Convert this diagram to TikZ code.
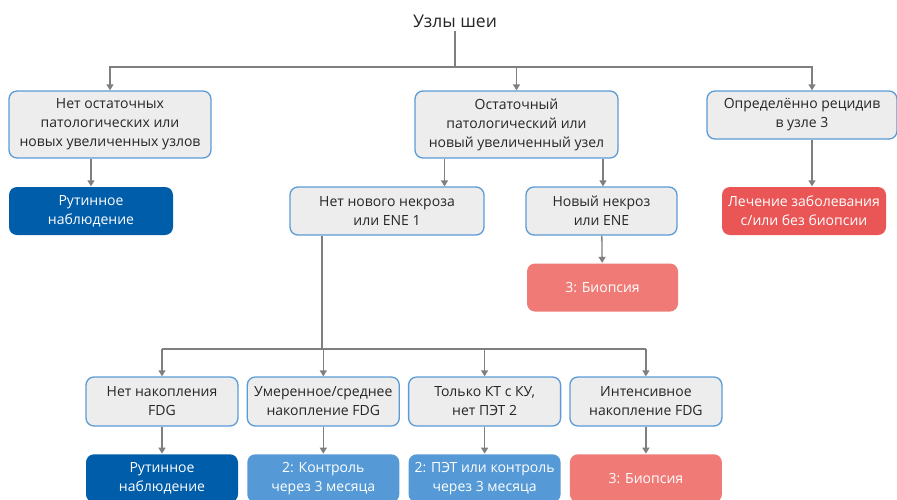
\documentclass[tikz,border=0pt]{standalone}
\usepackage{fontspec}
\setmainfont{Open Sans}
\usetikzlibrary{arrows.meta,chains,positioning}

\definecolor{boxgray}{HTML}{EDEDED}
\definecolor{edgeblue}{HTML}{5B9BD5}
\definecolor{linkgray}{HTML}{7F7F7F}
\definecolor{routblue}{HTML}{005DAA}
\definecolor{ctrlblue}{HTML}{559AD6}
\definecolor{biopred}{HTML}{F07B76}
\definecolor{treatred}{HTML}{EA5556}

\begin{document}
\begin{tikzpicture}[x=1pt,y=-1pt,line width=1.3pt]

\edef\sizerow{152pt}
\tikzstyle{question}=[draw=edgeblue,fill=boxgray,rounded corners=8pt,align=center,
  inner sep=0pt,text=black!85,font=\fontsize{14}{19}\selectfont]
\tikzstyle{result}=[question,draw=none,text=white]
\tikzstyle{link}=[draw=linkgray,-{Triangle[width=7pt,length=6pt]}]

\clip (0,0) rectangle (897,499);

%% Title and first level
\node [font=\fontsize{17.5}{20}\selectfont,text=black!85] (title) at (455,21) {Узлы шеи};
\coordinate (hub) at (455,67);

\node [question,minimum width=202pt,minimum height=67pt] (none) at (110,124.5)
  {Нет остаточных\\патологических или\\новых увеличенных узлов};
\node [question,minimum width=203pt,minimum height=67pt] (resid) at (516.5,124.5)
  {Остаточный\\патологический или\\новый увеличенный узел};
\node [question,minimum width=190pt,minimum height=48pt] (recur) at (802,115)
  {Определённо рецидив\\в узле 3};

\draw [draw=linkgray] (title.south) -- (hub);
\draw [link] (hub) -| (none.north);
\draw [link] (hub) -| (resid.north);
\draw [link] (hub) -| ([xshift=10pt]recur.north);

%% Second level
\node [result,fill=routblue,minimum width=164pt,minimum height=48pt] (rout) at (91,211)
  {Рутинное\\наблюдение};
\node [question,minimum width=194pt,minimum height=48pt] (nonec) at (387,211)
  {Нет нового некроза\\или ENE 1};
\node [question,minimum width=151pt,minimum height=48pt] (necro) at (601.5,211)
  {Новый некроз\\или ENE};
\node [result,fill=treatred,minimum width=164pt,minimum height=48pt] (treat) at (804,211)
  {Лечение заболевания\\с/или без биопсии};
\node [result,fill=biopred,minimum width=151pt,minimum height=48pt] (biop) at (602.5,287.5)
  {3: Биопсия};

\draw [link] (rout.north |- none.south) -- (rout.north);
\draw [link] ([xshift=-72pt]resid.south) -- ([xshift=-72pt]resid.south |- nonec.north);
\draw [link] ([xshift=86.5pt]resid.south) -- ([xshift=86.5pt]resid.south |- necro.north);
\draw [link] ([xshift=10pt]recur.south) -- ([xshift=10pt]recur.south |- treat.north);
\draw [link] (necro) -- (biop);

%% Bottom row
\begin{scope}[start chain=1 going right,node distance=8pt]
  \node [on chain=1,question,minimum width=\sizerow,minimum height=49pt] (b1) at (162,401.5)
    {Нет накопления\\FDG};
  \node [on chain=1,question,minimum width=\sizerow,minimum height=49pt] (b2)
    {Умеренное/среднее\\накопление FDG};
  \node [on chain=1,question,minimum width=\sizerow,minimum height=49pt] (b3)
    {Только КТ с КУ,\\нет ПЭТ 2};
  \node [on chain=1,question,minimum width=\sizerow,minimum height=49pt] (b4)
    {Интенсивное\\накопление FDG};
\end{scope}

\node [result,fill=routblue,anchor=north,yshift=-27pt,minimum width=\sizerow,minimum height=48pt]
  at (b1.south) (r1) {Рутинное\\наблюдение};
\node [result,fill=ctrlblue,anchor=north,yshift=-27pt,minimum width=\sizerow,minimum height=48pt]
  at (b2.south) (r2) {2: Контроль\\через 3 месяца};
\node [result,fill=ctrlblue,anchor=north,yshift=-27pt,minimum width=\sizerow,minimum height=48pt]
  at (b3.south) (r3) {2: ПЭТ или контроль\\через 3 месяца};
\node [result,fill=biopred,anchor=north,yshift=-27pt,minimum width=\sizerow,minimum height=48pt]
  at (b4.south) (r4) {3: Биопсия};

%% Split below (nonec)
\coordinate (split) at ([xshift=-65pt]nonec.south |- 0,349);
\draw [draw=linkgray] ([xshift=-65pt]nonec.south) -- (split);
\draw [draw=linkgray] (split -| b1.north) -- (split -| b4.north);
\foreach \i in {1,...,4} {
  \draw [link] (split -| b\i.north) -- (b\i.north);
  \draw [link] (b\i) -- (r\i);
}
\end{tikzpicture}
\end{document}
